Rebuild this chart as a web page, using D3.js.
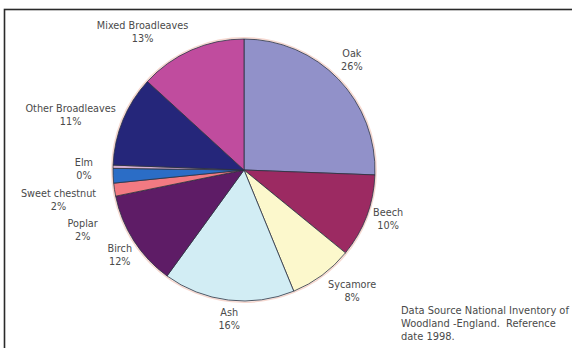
<!DOCTYPE html>
<html>
<head>
<meta charset="utf-8">
<script src="https://cdn.jsdelivr.net/npm/d3@7/dist/d3.min.js"></script>
<style>
  html, body { margin: 0; padding: 0; background: #fff; }
  svg { display: block; }
  text { font-family: "DejaVu Sans", Verdana, sans-serif; }
</style>
</head>
<body>
<svg id="chart" width="572" height="348"></svg>
<script>
// ---- data ----
const categories = ["Oak", "Beech", "Sycamore", "Ash", "Birch", "Poplar",
                    "Sweet chestnut", "Elm", "Other Broadleaves", "Mixed Broadleaves"];
const shares = [25.6, 10.3, 7.9, 16.2, 11.8, 1.6, 1.8, 0.4, 11.2, 13.2];
const sliceColors = ["#9191c9", "#9c2a62", "#fcf8cc", "#d2edf4", "#5e1c66",
                     "#f27a82", "#2b6dc6", "#d4aed0", "#25267a", "#c04c9e"];
const noteLines = ["Data Source National Inventory of",
                   "Woodland -England.  Reference",
                   "date 1998."];

// ---- layout ----
const W = 572, H = 348;
const cx = 244, cy = 170, R = 131;
const svg = d3.select("#chart");

// frame
svg.append("rect").attr("x", 4.5).attr("y", 9.5)
  .attr("width", W + 20).attr("height", H + 20)
  .attr("fill", "none").attr("stroke", "#2a2a2a").attr("stroke-width", 1.6);

const data = categories.map((c, i) => ({ name: c, value: shares[i], color: sliceColors[i] }));
const pie = d3.pie().value(d => d.value).sort(null);
const arcs = pie(data);
const arc = d3.arc().innerRadius(0).outerRadius(R);

const g = svg.append("g").attr("transform", `translate(${cx},${cy})`);

// faint halo
g.append("circle").attr("r", R + 1.2).attr("fill", "none")
  .attr("stroke", "#f6d8d0").attr("stroke-width", 1.5);

g.selectAll("path.slice").data(arcs).enter().append("path")
  .attr("class", "slice")
  .attr("d", arc)
  .attr("fill", d => d.data.color)
  .attr("stroke", "#2c3140")
  .attr("stroke-width", 0.8)
  .attr("stroke-linejoin", "round");

// labels
const fmt = v => Math.round(v) + "%";
const labelNudge = {
  "Oak": [0, -5], "Beech": [0, -5], "Sycamore": [11, -1], "Ash": [3, -2],
  "Birch": [3, 3], "Poplar": [-9, 37], "Sweet chestnut": [-9, 23],
  "Elm": [-12, 3], "Other Broadleaves": [-3, 3], "Mixed Broadleaves": [-27, 1]
};
const lh = 13, gap = 8;
arcs.forEach(a => {
  const th = (a.startAngle + a.endAngle) / 2;
  const s = Math.sin(th), c = Math.cos(th);
  const t = g.append("text").attr("font-size", 9.7).attr("fill", "#4a4a4a")
    .attr("text-anchor", "middle");
  const t1 = t.append("tspan").attr("x", 0).attr("dy", 0).text(a.data.name);
  const t2 = t.append("tspan").attr("x", 0).attr("dy", lh).text(fmt(a.data.value));
  const w = Math.max(t1.node().getComputedTextLength(), t2.node().getComputedTextLength());
  const h = 2 * lh;
  const nd = labelNudge[a.data.name] || [0, 0];
  const x = (R + gap) * s + (w / 2) * s + nd[0];
  const y = -(R + gap) * c - (h / 2) * c + nd[1];
  t.attr("transform", `translate(${x},${y - lh / 2 + 3.5})`);
});

// note
const note = svg.append("text").attr("font-size", 9.9).attr("fill", "#4a4a4a")
  .attr("xml:space", "preserve").style("white-space", "pre");
noteLines.forEach((l, i) => {
  note.append("tspan").attr("x", 401).attr("y", 313.5 + i * 13).text(l);
});
</script>
</body>
</html>
